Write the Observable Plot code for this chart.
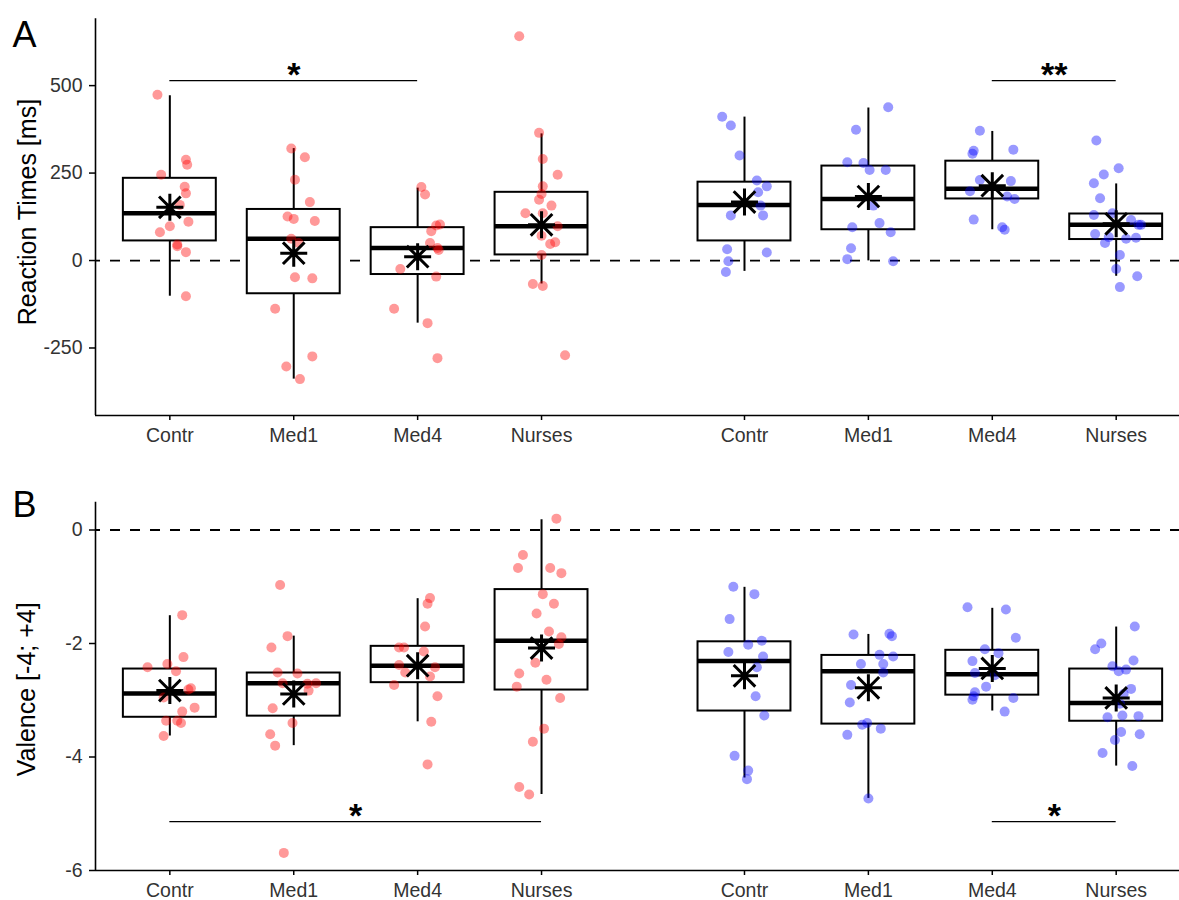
<!DOCTYPE html>
<html>
<head>
<meta charset="utf-8">
<script src="https://cdn.jsdelivr.net/npm/d3@7"></script>
<script src="https://cdn.jsdelivr.net/npm/@observablehq/plot@0.6"></script>
<style>
  html, body { margin: 0; padding: 0; background: #fff; overflow: hidden; }
  #wrap { width: 1179px; height: 900px; }
  #wrap svg { display: block; }
</style>
</head>
<body>
<div id="wrap"></div>
<script>
// ---------- categories & tick labels ----------
const categories = ["Contr", "Med1", "Med4", "Nurses"];
const rtTicks = [-250, 0, 250, 500];
const valTicks = [-6, -4, -2, 0];

// ---------- Panel A: reaction times [ms]; each point = [value, jitter] ----------
const rtRedContr = [[474,-0.10],[288,0.13],[274,0.14],[245,-0.07],[211,0.12],[192,0.13],[159,0.08],[111,0.15],[98,0.00],[81,-0.08],[46,0.06],[41,0.06],[24,0.13],[-102,0.13]];
const rtRedMed1 = [[320,-0.02],[295,0.09],[231,0.01],[167,0.13],[126,-0.05],[119,0.00],[113,0.17],[62,-0.02],[50,0.04],[-48,0.01],[-51,0.15],[-138,-0.15],[-274,0.15],[-303,-0.06],[-339,0.05]];
const rtRedMed4 = [[210,0.03],[189,0.06],[103,0.18],[100,0.15],[84,0.11],[50,0.10],[36,0.16],[30,0.17],[-24,-0.14],[-46,0.15],[-138,-0.19],[-179,0.08],[-279,0.16]];
const rtRedNurses = [[641,-0.18],[365,-0.02],[290,0.01],[245,0.13],[212,0.01],[190,0.00],[174,-0.02],[157,0.08],[135,-0.13],[135,0.01],[98,0.13],[71,0.00],[52,0.11],[47,0.07],[16,0.00],[-67,-0.07],[-73,0.01],[-271,0.19]];
const rtBlueContr = [[411,-0.18],[386,-0.11],[300,-0.04],[229,0.10],[212,0.18],[195,0.11],[157,0.13],[129,-0.11],[129,0.15],[32,-0.14],[23,0.18],[-2,-0.13],[-33,-0.15]];
const rtBlueMed1 = [[438,0.16],[374,-0.10],[281,-0.17],[279,-0.04],[259,0.01],[259,0.14],[157,0.04],[107,0.09],[95,-0.13],[81,0.18],[35,-0.14],[4,-0.17],[-2,0.20]];
const rtBlueMed4 = [[371,-0.10],[314,-0.15],[305,-0.16],[317,0.17],[230,-0.10],[227,0.15],[198,-0.18],[183,0.12],[176,0.18],[117,-0.15],[95,0.08],[88,0.10]];
const rtBlueNurses = [[343,-0.16],[264,0.02],[246,-0.10],[221,-0.18],[178,-0.13],[130,-0.18],[135,-0.03],[116,0.12],[102,0.18],[102,0.20],[76,-0.17],[67,-0.06],[50,-0.09],[62,0.08],[65,0.16],[16,0.03],[-24,0.00],[-45,0.17],[-76,0.03]];

// box statistics, order: red Contr, Med1, Med4, Nurses, blue Contr, Med1, Med4, Nurses
const rtLow    = [-102, -339, -179, -67, -31, -1, 88, -45];
const rtQ1     = [56, -95, -40, 16, 56, 88, 176, 60];
const rtMedian = [135, 62, 36, 98, 159, 176, 205, 102];
const rtQ3     = [235, 146, 94, 195, 224, 270, 284, 133];
const rtHigh   = [471, 320, 207, 362, 410, 436, 369, 219];
const rtMean   = [152, 21, 11, 102, 167, 183, 214, 105];
const rtSig = [{a: 0, b: 2, y: 514, label: "*"}, {a: 6, b: 7, y: 514, label: "**"}];

// ---------- Panel B: valence [-4; +4] ----------
const vRedContr = [[-1.50,0.10],[-2.24,0.11],[-2.36,-0.02],[-2.42,-0.18],[-2.49,0.05],[-2.79,0.17],[-2.81,0.15],[-2.95,-0.05],[-3.13,0.20],[-3.20,0.10],[-3.36,-0.03],[-3.36,0.06],[-3.40,0.09],[-3.63,-0.05]];
const vRedMed1 = [[-0.97,-0.11],[-1.87,-0.05],[-2.07,-0.18],[-2.51,-0.13],[-2.53,0.03],[-2.70,-0.09],[-2.71,0.11],[-2.70,0.18],[-2.83,0.12],[-3.14,-0.17],[-3.40,-0.01],[-3.60,-0.19],[-3.80,-0.15],[-5.69,-0.08]];
const vRedMed4 = [[-1.20,0.10],[-1.30,0.08],[-1.70,0.06],[-2.07,-0.15],[-2.07,-0.11],[-2.14,0.05],[-2.38,-0.15],[-2.51,-0.10],[-2.42,0.14],[-2.58,0.10],[-2.73,-0.19],[-2.93,0.16],[-3.38,0.11],[-4.13,0.08]];
const vRedNurses = [[0.20,0.12],[-0.44,-0.15],[-0.67,-0.19],[-0.67,0.07],[-0.76,0.16],[-1.13,0.01],[-1.30,0.10],[-1.47,-0.04],[-1.79,0.06],[-1.89,0.16],[-2.01,0.14],[-2.34,-0.05],[-2.53,-0.18],[-2.64,0.04],[-2.76,-0.20],[-2.96,0.15],[-3.50,0.02],[-3.73,-0.07],[-4.53,-0.18],[-4.66,-0.10]];
const vBlueContr = [[-1.00,-0.09],[-1.13,0.08],[-1.57,-0.12],[-1.95,0.14],[-2.02,0.03],[-2.15,-0.13],[-2.23,0.15],[-2.42,0.10],[-2.93,0.09],[-3.27,0.16],[-3.98,-0.08],[-4.24,0.03],[-4.39,0.02]];
const vBlueMed1 = [[-1.84,-0.12],[-1.83,0.17],[-1.87,0.19],[-2.20,0.09],[-2.23,0.20],[-2.36,-0.06],[-2.36,0.12],[-2.51,0.12],[-2.73,-0.14],[-3.04,-0.15],[-3.40,-0.01],[-3.43,-0.05],[-3.50,0.10],[-3.61,-0.17],[-4.73,0.00]];
const vBlueMed4 = [[-1.36,-0.20],[-1.40,0.11],[-1.90,0.19],[-2.10,-0.06],[-2.17,0.05],[-2.31,-0.16],[-2.52,-0.14],[-2.56,0.02],[-2.76,-0.05],[-2.86,-0.14],[-2.93,-0.15],[-2.99,-0.16],[-2.96,0.17],[-3.20,0.10]];
const vBlueNurses = [[-1.70,0.15],[-2.00,-0.12],[-2.10,-0.17],[-2.30,0.14],[-2.40,-0.03],[-2.49,0.02],[-2.46,0.08],[-2.80,0.12],[-2.89,0.06],[-3.06,0.03],[-3.30,-0.07],[-3.27,0.05],[-3.28,0.18],[-3.56,0.04],[-3.60,0.19],[-3.70,-0.01],[-3.93,-0.11],[-4.16,0.13]];

const vLow    = [-3.63, -3.80, -3.38, -4.66, -4.37, -4.73, -3.19, -4.16];
const vQ1     = [-3.30, -3.28, -2.69, -2.82, -3.19, -3.42, -2.91, -3.37];
const vMedian = [-2.88, -2.70, -2.39, -1.95, -2.31, -2.49, -2.54, -3.05];
const vQ3     = [-2.45, -2.52, -2.05, -1.05, -1.97, -2.21, -2.12, -2.45];
const vHigh   = [-1.51, -1.87, -1.21, 0.18, -1.01, -1.84, -1.38, -1.71];
const vMean   = [-2.83, -2.89, -2.39, -2.08, -2.57, -2.78, -2.44, -2.96];
const vSig = [{a: 0, b: 3, y: -5.14, label: "*"}, {a: 6, b: 7, y: -5.14, label: "*"}];

// ---------- layout helpers ----------
const cohortGap = 4.638;               // distance between the two cohorts' first slots
const slotX = i => 1 + (i % 4) + Math.floor(i / 4) * cohortGap;
const xDomain = [0.4, 9.149];
const halfBox = 0.375;
const font = "'Liberation Sans', Arial, Helvetica, sans-serif";

// ggplot-like 8-armed asterisk (shape 8)
const asterisk8 = {
  draw(ctx, size) {
    const r = Math.sqrt(size / Math.PI), d = r * 0.8;
    ctx.moveTo(0, -r); ctx.lineTo(0, r);
    ctx.moveTo(-r, 0); ctx.lineTo(r, 0);
    ctx.moveTo(-d, -d); ctx.lineTo(d, d);
    ctx.moveTo(-d, d); ctx.lineTo(d, -d);
  }
};

function panel(cfg) {
  const pts = cfg.series.flatMap((arr, i) =>
    arr.map(([v, j]) => ({x: slotX(i) + j, v, red: i < 4})));
  const boxes = cfg.q1.map((q, i) => ({
    x: slotX(i), lo: cfg.low[i], q1: q, med: cfg.median[i],
    q3: cfg.q3[i], hi: cfg.high[i], mean: cfg.mean[i]
  }));
  const xs = d3.range(8).map(slotX);
  const names = new Map(xs.map((x, i) => [x.toFixed(3), categories[i % 4]]));
  return Plot.plot({
    width: 1179, height: cfg.height,
    marginLeft: 95, marginRight: 0, marginTop: cfg.marginTop, marginBottom: cfg.marginBottom,
    x: {domain: xDomain},
    y: {domain: cfg.domain},
    style: {fontFamily: font, background: "white", overflow: "visible"},
    marks: [
      Plot.ruleY([0], {stroke: "black", strokeWidth: 1.8, strokeDasharray: "10,10", strokeDashoffset: 5}),
      Plot.ruleX(boxes, {x: "x", y1: "lo", y2: "hi", stroke: "black", strokeWidth: 2}),
      Plot.rect(boxes, {x1: d => d.x - halfBox, x2: d => d.x + halfBox, y1: "q1", y2: "q3",
        fill: "white", stroke: "black", strokeWidth: 2}),
      Plot.ruleY(boxes, {x1: d => d.x - halfBox, x2: d => d.x + halfBox, y: "med",
        stroke: "black", strokeWidth: 4.5}),
      Plot.dot(pts.filter(d => d.red), {x: "x", y: "v", r: 5, fill: "#FF0000", fillOpacity: 0.4}),
      Plot.dot(pts.filter(d => !d.red), {x: "x", y: "v", r: 5, fill: "#0000FF", fillOpacity: 0.4}),
      Plot.dot(boxes, {x: "x", y: "mean", symbol: asterisk8, r: 13.5, fill: "none",
        stroke: "black", strokeWidth: 3}),
      Plot.ruleY(cfg.sig, {x1: d => slotX(d.a), x2: d => slotX(d.b), y: "y",
        stroke: "black", strokeWidth: 1.2}),
      Plot.text(cfg.sig, {x: d => (slotX(d.a) + slotX(d.b)) / 2, y: "y", text: "label",
        fontSize: 34, fontWeight: "bold", lineAnchor: "bottom", dy: 5, fill: "black", fontFamily: font}),
      Plot.axisY({ticks: cfg.ticks, tickFormat: d => String(d), tickSize: 6, tickPadding: 7,
        fontSize: 19.5, fill: "#333", stroke: "black", strokeWidth: 1.5, label: null}),
      Plot.axisX({ticks: xs, tickFormat: d => names.get(d.toFixed(3)), tickSize: 5, tickPadding: 8,
        fontSize: 19.5, fill: "#333", stroke: "black", strokeWidth: 1.5, label: null}),
      Plot.ruleX([xDomain[0]], {stroke: "black", strokeWidth: 1.6}),
      Plot.ruleY([cfg.domain[0]], {stroke: "black", strokeWidth: 1.6}),
      Plot.text([cfg.ylabel], {frameAnchor: "left", rotate: -90, dx: cfg.labelDx, dy: cfg.labelDy,
        fontSize: 25, fill: "black", textAnchor: "middle", fontFamily: font}),
      Plot.text([cfg.tag], {frameAnchor: "top-left", dx: -83, dy: cfg.tagDy, textAnchor: "start",
        lineAnchor: "bottom", fontSize: 36, fill: "black", fontFamily: font})
    ]
  });
}

const wrap = document.getElementById("wrap");
wrap.append(panel({
  series: [rtRedContr, rtRedMed1, rtRedMed4, rtRedNurses, rtBlueContr, rtBlueMed1, rtBlueMed4, rtBlueNurses],
  low: rtLow, q1: rtQ1, median: rtMedian, q3: rtQ3, high: rtHigh, mean: rtMean, sig: rtSig,
  domain: [-443, 691], ticks: rtTicks, ylabel: "Reaction Times [ms]", tag: "A",
  height: 450, marginTop: 18.3, marginBottom: 35, labelDx: -68, labelDy: -5, tagDy: 28.4
}));
wrap.append(panel({
  series: [vRedContr, vRedMed1, vRedMed4, vRedNurses, vBlueContr, vBlueMed1, vBlueMed4, vBlueNurses],
  low: vLow, q1: vQ1, median: vMedian, q3: vQ3, high: vHigh, mean: vMean, sig: vSig,
  domain: [-6, 0.49], ticks: valTicks, ylabel: "Valence [-4; +4]", tag: "B",
  height: 450, marginTop: 51.7, marginBottom: 30, labelDx: -69, labelDy: 3, tagDy: 15
}));
</script>
</body>
</html>
